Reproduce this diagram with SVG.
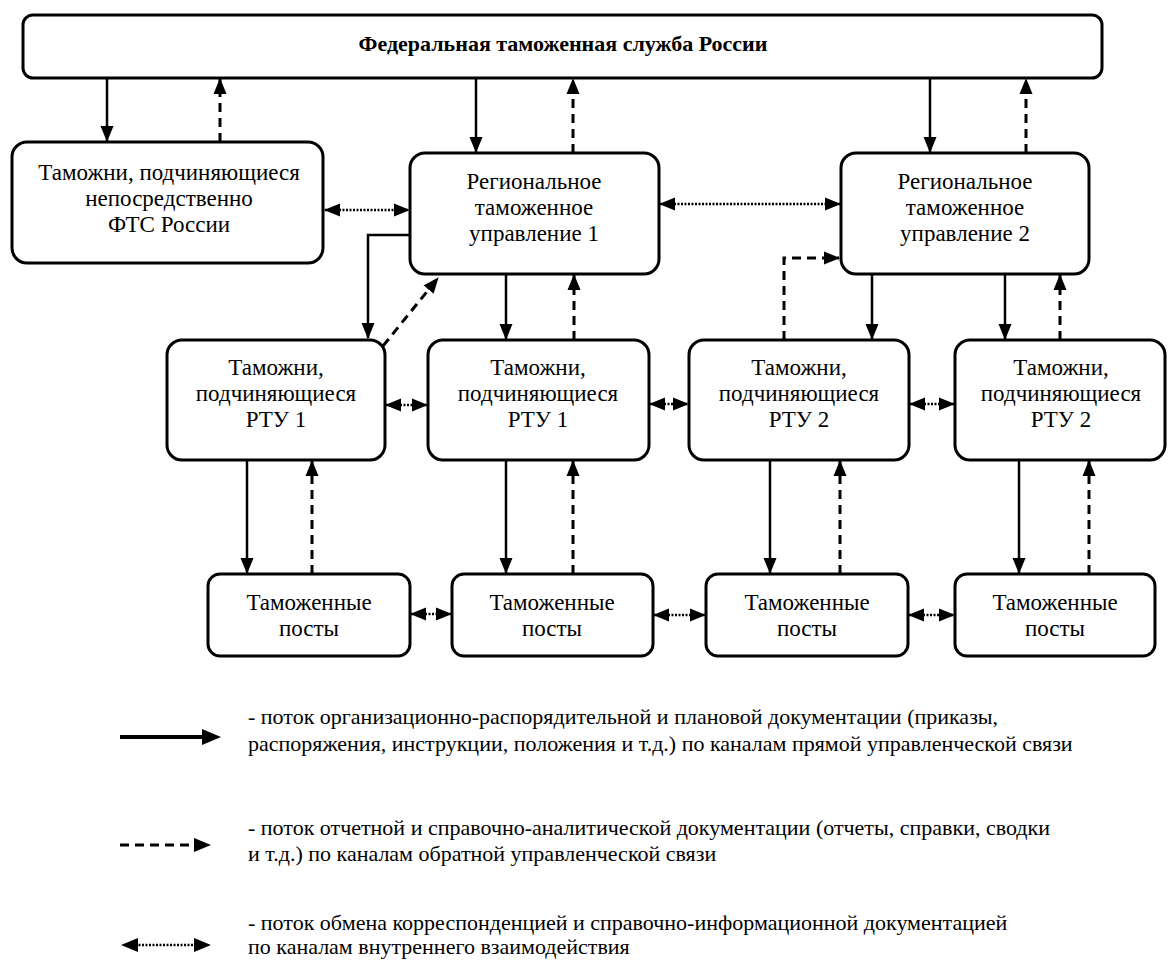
<svg xmlns="http://www.w3.org/2000/svg" width="1168" height="962" viewBox="0 0 1168 962">
<defs>
<marker id="ah" markerUnits="userSpaceOnUse" markerWidth="16" markerHeight="14" refX="15" refY="6.5" orient="auto" viewBox="0 0 16 13">
<path d="M0,0 L16,6.5 L0,13 z" fill="#000"/>
</marker>
<marker id="ahs" markerUnits="userSpaceOnUse" markerWidth="16" markerHeight="14" refX="15" refY="6.5" orient="auto-start-reverse" viewBox="0 0 16 13">
<path d="M0,0 L16,6.5 L0,13 z" fill="#000"/>
</marker>
</defs>
<rect width="1168" height="962" fill="#fff"/>

<g id="connectors" fill="none" stroke="#000">
<g stroke-width="2.5" marker-end="url(#ah)">
<path d="M107,79 V141"/>
<path d="M476,79 V152"/>
<path d="M930,79 V152"/>
<path d="M410,235 H368 V338"/>
<path d="M506,275 V339"/>
<path d="M872,275 V339"/>
<path d="M1005,275 V339"/>
<path d="M247,461 V573"/>
<path d="M506,461 V573"/>
<path d="M770,461 V573"/>
<path d="M1019,461 V573"/>
</g>
<g stroke-width="3" stroke-dasharray="9 6" marker-end="url(#ah)">
<path d="M220,142 V79"/>
<path d="M573,153 V79"/>
<path d="M1026,153 V79"/>
<path d="M383,346 L438,278"/>
<path d="M574,340 V275"/>
<path d="M784,340 V258 H839"/>
<path d="M1060,340 V275"/>
<path d="M312,574 V461"/>
<path d="M573,574 V461"/>
<path d="M840,574 V461"/>
<path d="M1089,574 V461"/>
</g>
<g stroke-width="2.5" stroke-dasharray="2 1.5" marker-start="url(#ahs)" marker-end="url(#ah)">
<path d="M325,210 H409"/>
<path d="M660,204 H840"/>
<path d="M386,405 H427"/>
<path d="M650,404 H688"/>
<path d="M910,404 H954"/>
<path d="M411,614 H451"/>
<path d="M654,615 H705"/>
<path d="M909,615 H954"/>
</g>
</g>

<g id="fts">
<rect x="23" y="15" width="1079" height="63" rx="10" fill="#fff" stroke="#000" stroke-width="3"/>
<text style="font-family:'Liberation Serif',serif" font-family="Liberation Serif" font-size="22" font-weight="bold" text-anchor="middle" x="563" y="51">Федеральная таможенная служба России</text>
</g>

<g id="direct-customs">
<rect x="12" y="142" width="311" height="121" rx="15" fill="#fff" stroke="#000" stroke-width="3"/>
<text style="font-family:'Liberation Serif',serif" font-family="Liberation Serif" font-size="23" text-anchor="middle" x="169" y="180">Таможни, подчиняющиеся</text>
<text style="font-family:'Liberation Serif',serif" font-family="Liberation Serif" font-size="23" text-anchor="middle" x="169" y="206">непосредственно</text>
<text style="font-family:'Liberation Serif',serif" font-family="Liberation Serif" font-size="23" text-anchor="middle" x="169" y="232">ФТС России</text>
</g>

<g id="rtu1">
<rect x="410" y="153" width="249" height="121" rx="15" fill="#fff" stroke="#000" stroke-width="3"/>
<text style="font-family:'Liberation Serif',serif" font-family="Liberation Serif" font-size="23" text-anchor="middle" x="534" y="189">Региональное</text>
<text style="font-family:'Liberation Serif',serif" font-family="Liberation Serif" font-size="23" text-anchor="middle" x="534" y="215">таможенное</text>
<text style="font-family:'Liberation Serif',serif" font-family="Liberation Serif" font-size="23" text-anchor="middle" x="534" y="241">управление 1</text>
</g>

<g id="rtu2">
<rect x="841" y="153" width="248" height="121" rx="15" fill="#fff" stroke="#000" stroke-width="3"/>
<text style="font-family:'Liberation Serif',serif" font-family="Liberation Serif" font-size="23" text-anchor="middle" x="965" y="189">Региональное</text>
<text style="font-family:'Liberation Serif',serif" font-family="Liberation Serif" font-size="23" text-anchor="middle" x="965" y="215">таможенное</text>
<text style="font-family:'Liberation Serif',serif" font-family="Liberation Serif" font-size="23" text-anchor="middle" x="965" y="241">управление 2</text>
</g>

<g id="m1">
<rect x="167" y="340" width="218" height="120" rx="15" fill="#fff" stroke="#000" stroke-width="3"/>
<text style="font-family:'Liberation Serif',serif" font-family="Liberation Serif" font-size="23" text-anchor="middle" x="276" y="375">Таможни,</text>
<text style="font-family:'Liberation Serif',serif" font-family="Liberation Serif" font-size="23" text-anchor="middle" x="276" y="401">подчиняющиеся</text>
<text style="font-family:'Liberation Serif',serif" font-family="Liberation Serif" font-size="23" text-anchor="middle" x="276" y="427">РТУ 1</text>
</g>

<g id="m2">
<rect x="428" y="340" width="221" height="120" rx="15" fill="#fff" stroke="#000" stroke-width="3"/>
<text style="font-family:'Liberation Serif',serif" font-family="Liberation Serif" font-size="23" text-anchor="middle" x="538" y="375">Таможни,</text>
<text style="font-family:'Liberation Serif',serif" font-family="Liberation Serif" font-size="23" text-anchor="middle" x="538" y="401">подчиняющиеся</text>
<text style="font-family:'Liberation Serif',serif" font-family="Liberation Serif" font-size="23" text-anchor="middle" x="538" y="427">РТУ 1</text>
</g>

<g id="m3">
<rect x="689" y="340" width="220" height="120" rx="15" fill="#fff" stroke="#000" stroke-width="3"/>
<text style="font-family:'Liberation Serif',serif" font-family="Liberation Serif" font-size="23" text-anchor="middle" x="799" y="375">Таможни,</text>
<text style="font-family:'Liberation Serif',serif" font-family="Liberation Serif" font-size="23" text-anchor="middle" x="799" y="401">подчиняющиеся</text>
<text style="font-family:'Liberation Serif',serif" font-family="Liberation Serif" font-size="23" text-anchor="middle" x="799" y="427">РТУ 2</text>
</g>

<g id="m4">
<rect x="955" y="340" width="210" height="120" rx="15" fill="#fff" stroke="#000" stroke-width="3"/>
<text style="font-family:'Liberation Serif',serif" font-family="Liberation Serif" font-size="23" text-anchor="middle" x="1061" y="375">Таможни,</text>
<text style="font-family:'Liberation Serif',serif" font-family="Liberation Serif" font-size="23" text-anchor="middle" x="1061" y="401">подчиняющиеся</text>
<text style="font-family:'Liberation Serif',serif" font-family="Liberation Serif" font-size="23" text-anchor="middle" x="1061" y="427">РТУ 2</text>
</g>

<g id="b1">
<rect x="208" y="574" width="202" height="82" rx="12" fill="#fff" stroke="#000" stroke-width="3"/>
<text style="font-family:'Liberation Serif',serif" font-family="Liberation Serif" font-size="23" text-anchor="middle" x="309" y="610">Таможенные</text>
<text style="font-family:'Liberation Serif',serif" font-family="Liberation Serif" font-size="23" text-anchor="middle" x="309" y="636">посты</text>
</g>
<g id="b2">
<rect x="452" y="574" width="201" height="82" rx="12" fill="#fff" stroke="#000" stroke-width="3"/>
<text style="font-family:'Liberation Serif',serif" font-family="Liberation Serif" font-size="23" text-anchor="middle" x="552" y="610">Таможенные</text>
<text style="font-family:'Liberation Serif',serif" font-family="Liberation Serif" font-size="23" text-anchor="middle" x="552" y="636">посты</text>
</g>
<g id="b3">
<rect x="706" y="574" width="202" height="82" rx="12" fill="#fff" stroke="#000" stroke-width="3"/>
<text style="font-family:'Liberation Serif',serif" font-family="Liberation Serif" font-size="23" text-anchor="middle" x="807" y="610">Таможенные</text>
<text style="font-family:'Liberation Serif',serif" font-family="Liberation Serif" font-size="23" text-anchor="middle" x="807" y="636">посты</text>
</g>
<g id="b4">
<rect x="955" y="574" width="200" height="82" rx="12" fill="#fff" stroke="#000" stroke-width="3"/>
<text style="font-family:'Liberation Serif',serif" font-family="Liberation Serif" font-size="23" text-anchor="middle" x="1055" y="610">Таможенные</text>
<text style="font-family:'Liberation Serif',serif" font-family="Liberation Serif" font-size="23" text-anchor="middle" x="1055" y="636">посты</text>
</g>

<g id="legend">
<path d="M120,737 H205" stroke="#000" stroke-width="4" fill="none"/>
<path d="M202,729 L221,737 L202,745 z" fill="#000"/>
<path d="M120,845 H195" stroke="#000" stroke-width="3" stroke-dasharray="9 6" fill="none"/>
<path d="M194,838 L211,845 L194,852 z" fill="#000"/>
<path d="M135,945 H197" stroke="#000" stroke-width="2.5" stroke-dasharray="2 1.5" fill="none"/>
<path d="M138,938 L121,945 L138,952 z" fill="#000"/>
<path d="M194,938 L211,945 L194,952 z" fill="#000"/>
<text style="font-family:'Liberation Serif',serif" font-family="Liberation Serif" font-size="22" x="248" y="724">- поток организационно-распорядительной и плановой документации (приказы,</text>
<text style="font-family:'Liberation Serif',serif" font-family="Liberation Serif" font-size="22" x="248" y="751">распоряжения, инструкции, положения и т.д.) по каналам прямой управленческой связи</text>
<text style="font-family:'Liberation Serif',serif" font-family="Liberation Serif" font-size="22" x="248" y="835">- поток отчетной и справочно-аналитической документации (отчеты, справки, сводки</text>
<text style="font-family:'Liberation Serif',serif" font-family="Liberation Serif" font-size="22" x="248" y="861">и т.д.) по каналам обратной управленческой связи</text>
<text style="font-family:'Liberation Serif',serif" font-family="Liberation Serif" font-size="22" x="248" y="930">- поток обмена корреспонденцией и справочно-информационной документацией</text>
<text style="font-family:'Liberation Serif',serif" font-family="Liberation Serif" font-size="22" x="248" y="954">по каналам внутреннего взаимодействия</text>
</g>
</svg>
